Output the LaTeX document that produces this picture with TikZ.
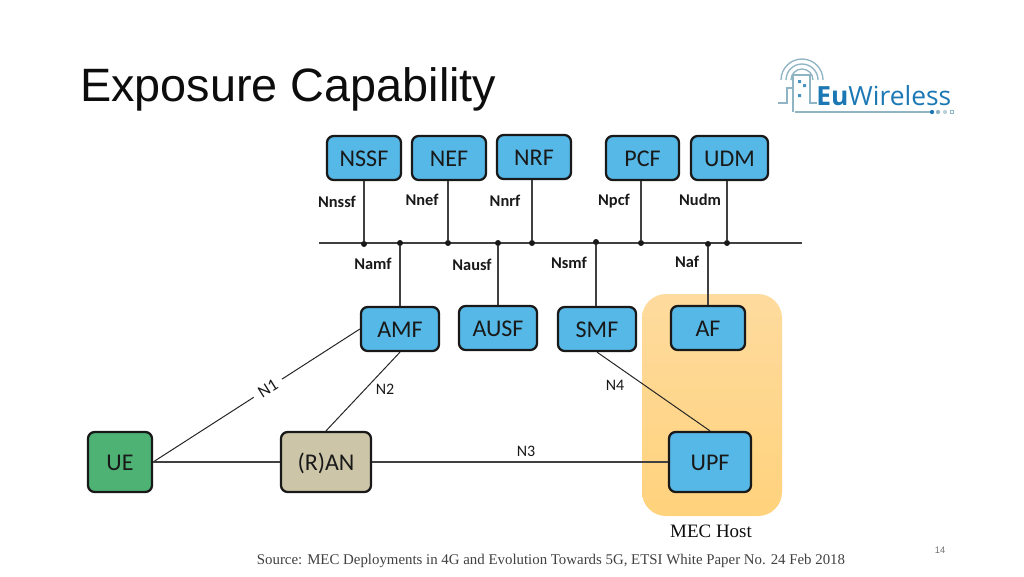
\documentclass[tikz,border=0pt]{standalone}
\usepackage{fontspec}
\setmainfont{Carlito}
\newfontfamily\titlefont{Liberation Sans}
\newfontfamily\sourcefont{Liberation Serif}
\newfontfamily\logofont{Open Sans}
\definecolor{nfblue}{HTML}{56B8E6}
\definecolor{uegreen}{HTML}{4DB274}
\definecolor{rantan}{HTML}{CCC5A8}
\definecolor{mectop}{HTML}{FEDB9E}
\definecolor{mecbottom}{HTML}{FFD27C}
\definecolor{logoblue}{HTML}{1C78B4}
\definecolor{logogrey}{HTML}{8FB4C4}
\begin{document}
\begin{tikzpicture}
	 [x=.75pt,y=-.75pt,
	  nfbox/.style={draw=black!90,line width=1.7pt,rounded corners=5pt,fill=nfblue,font=\fontsize{18}{18}\selectfont,text=black!90,inner sep=0pt,text height=13pt,text depth=0pt},
	  dot/.style={circle,fill=black!90,inner sep=0pt,minimum size=4.5pt},
	  lab/.style={font=\fontsize{12.3}{12.3}\selectfont\bfseries,text=black!90,inner sep=0pt},
	  nlab/.style={font=\fontsize{12}{12}\selectfont,text=black!90,inner sep=0pt},
	  link/.style={draw=black!75,line width=1pt},
	  thinlink/.style={draw=black!85,line width=.75pt}]

  \useasboundingbox (0,0) rectangle (1024,576);

  % slide text
  \node[anchor=base west,inner sep=0pt,font=\titlefont\fontsize{35.1}{35.1}\selectfont,text=black!95] (title) at (80,101) {Exposure Capability};
  \node[anchor=base,inner sep=0pt,font=\sourcefont\fontsize{11.15}{11.15}\selectfont,text=black!75] (source) at (551,564) {Source: MEC Deployments in 4G and Evolution Towards 5G, ETSI White Paper No. 24 Feb 2018};
  \node[anchor=base,inner sep=0pt,font=\titlefont\fontsize{7}{7}\selectfont,text=black!55] (page) at (940,553) {14};

  % logo
  \foreach \r in {21,16,11}
    \draw[logogrey,line width=1pt] (802-\r,80) arc[start angle=180,end angle=0,radius=\r*.75pt];
  \draw[logogrey,line width=1pt] (793,112) -- (793,75) -- (810,75) -- (810,103) -- (817,103);
  \draw[logogrey,line width=1pt] (778,103) -- (787,103) -- (787,88) -- (793,88);
  \draw[logogrey,line width=1pt] (795,112) -- (930,112);
  \foreach \x/\c in {932/logoblue,938/logogrey,945/logogrey!60}
    \fill[\c] (\x,112) circle (1.6pt);
  \draw[logogrey,line width=.4pt] (950.5,110.5) rectangle (953.5,113.5);
  \fill[logoblue!80] (798,80) rectangle +(3,3) (803,84) rectangle +(3,3) (798,94) rectangle +(3,3);
  \node[anchor=base west,inner sep=0pt,font=\logofont\fontsize{19.8}{19.8}\selectfont,text=logoblue] (logo) at (816,105) {\textbf{Eu}Wireless};

  % mec host
  \node[draw=none,rounded corners=18pt,top color=mectop,bottom color=mecbottom,minimum width=105pt,minimum height=166.5pt,inner sep=0pt] (mec) at (712,405) {};
  \node[anchor=base,inner sep=0pt,font=\sourcefont\fontsize{14.2}{14.2}\selectfont,text=black!95] (meclab) at (711,537) {MEC Host};

  % functions
  \foreach \name/\txt/\x/\y/\w in {nssf/NSSF/364/158/74,nef/NEF/449/158/74,nrf/NRF/534/157/74,pcf/PCF/642.5/158/73,udm/UDM/729.5/158/77,amf/AMF/400/329/78,ausf/AUSF/498/328/78,smf/SMF/597/329/78,af/AF/708/328/74}
    \node[nfbox,minimum width=\w*.75pt,minimum height=33pt] (\name) at (\x,\y) {\txt};
  \node[nfbox,minimum width=61.5pt,minimum height=45pt] (upf) at (710,462) {UPF};
  \node[nfbox,fill=uegreen,minimum width=48pt,minimum height=45pt] (ue) at (120,462) {UE};
  \node[nfbox,fill=rantan,minimum width=67.5pt,minimum height=45pt] (ran) at (326,462) {(R)AN};

  % service bus
  \coordinate (busl) at (319,243);
  \coordinate (busr) at (802,243);
  \draw[link] (busl) -- (busr);
  \foreach \name/\x/\y in {dnssf/364/244,damf/400/243,dnef/448/243,dausf/498/243,dnrf/532/243,dsmf/596/242,dpcf/641/243,daf/708/244,dudm/727/243}
    \node[dot] (\name) at (\x,\y) {};

  \foreach \from/\to in {dnssf/nssf,dnef/nef,dnrf/nrf,dpcf/pcf,dudm/udm}
    \draw[link] (\from) -- (\from |- \to.south);
  \foreach \from/\to in {damf/amf,dausf/ausf,dsmf/smf,daf/af}
    \draw[link] (\from) -- (\from |- \to.north);

  \foreach \x/\y/\txt/\name in {337/202/Nnssf/lnssf,422/200/Nnef/lnef,505/201/Nnrf/lnrf,614/201/Npcf/lnpcf,700/200/Nudm/lnudm,373/264/Namf/lnamf,472/265/Nausf/lnausf,569/263/Nsmf/lnsmf,687/262/Naf/lnaf}
    \node[lab] (\name) at (\x,\y) {\txt};

  % reference points
  \draw[thinlink] (ue.east) -- (amf.west);
  \draw[thinlink] (ran.north) -- (amf.south);
  \draw[thinlink] (smf.south) -- (upf.north);
  \draw[link] (ue.east) -- (ran.west);
  \draw[link] (ran.east) -- (upf.west);

  \node[nlab,fill=white,rotate=32,inner xsep=5pt,inner ysep=1pt,font=\fontsize{13}{13}\selectfont] (n1) at (268,388.5) {N1};
  \node[nlab] (n2) at (385,389) {N2};
  \node[nlab] (n3) at (526,451) {N3};
  \node[nlab] (n4) at (615,385) {N4};

\end{tikzpicture}
\end{document}
